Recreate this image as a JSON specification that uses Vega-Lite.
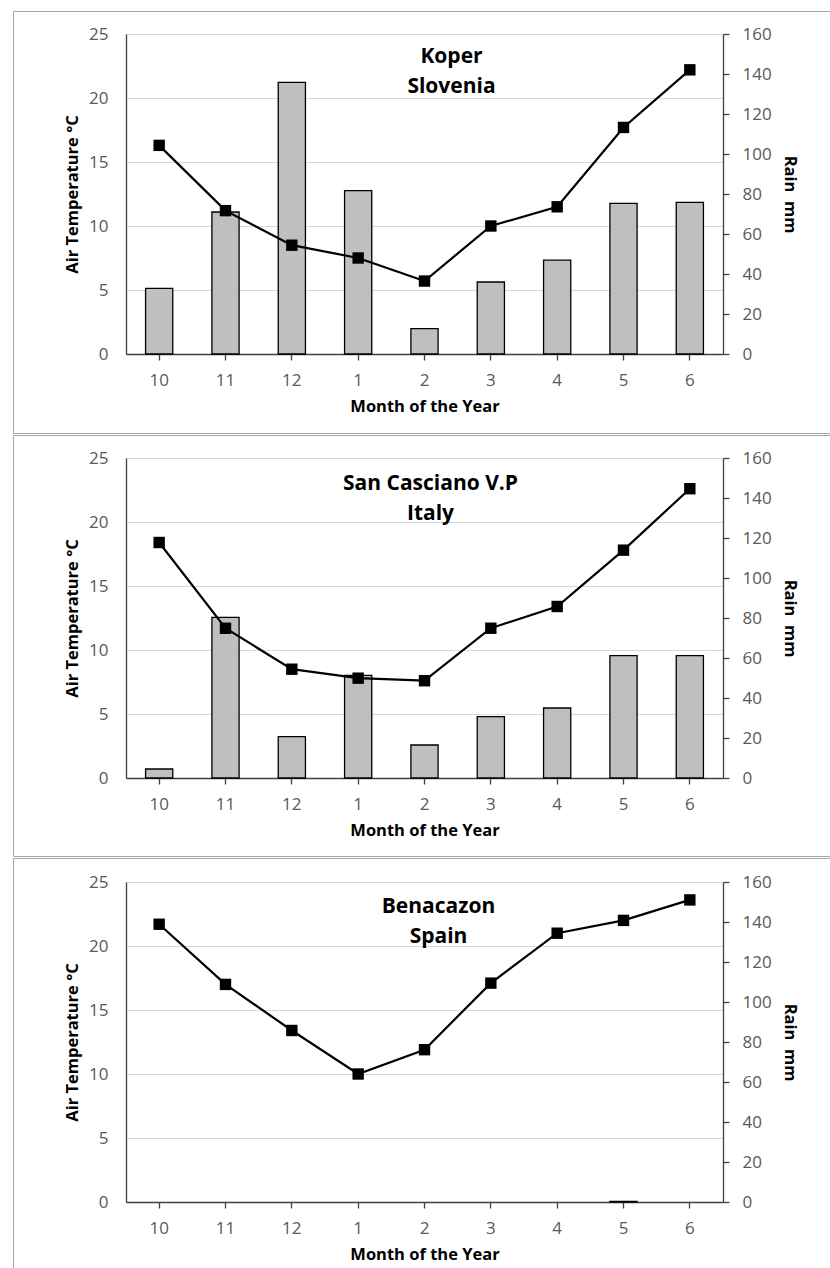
{
  "$schema": "https://vega.github.io/schema/vega-lite/v6.json",
  "padding": {"left": 12, "top": 10, "right": 0, "bottom": 0},
  "spacing": 0,
  "background": "white",
  "config": {
    "view": {"stroke": "#a6a6a6", "strokeWidth": 1},
    "font": "Open Sans",
    "axis": {
      "labelFont": "Open Sans", "labelFontSize": 17, "labelColor": "#595959",
      "titleFont": "Open Sans", "titleFontSize": 16.5, "titleFontWeight": "bold", "titleColor": "#000000",
      "domainColor": "#404040", "domainWidth": 1.3, "tickColor": "#404040", "tickWidth": 1.3,
      "gridColor": "#d9d9d9", "gridWidth": 1.2
    },
    "text": {"font": "Open Sans", "fontSize": 21, "fontWeight": "bold", "color": "#000000", "lineHeight": 30, "baseline": "top", "align": "center", "lineBreak": "\n"}
  },
  "datasets": {
    "koper": [
      {"month": "10", "temp": 16.3, "rain": 32.8},
      {"month": "11", "temp": 11.2, "rain": 71},
      {"month": "12", "temp": 8.5, "rain": 135.8},
      {"month": "1", "temp": 7.5, "rain": 81.7},
      {"month": "2", "temp": 5.7, "rain": 12.7},
      {"month": "3", "temp": 10.0, "rain": 36},
      {"month": "4", "temp": 11.5, "rain": 46.9},
      {"month": "5", "temp": 17.7, "rain": 75.3},
      {"month": "6", "temp": 22.2, "rain": 75.8}
    ],
    "sancasciano": [
      {"month": "10", "temp": 18.4, "rain": 4.5},
      {"month": "11", "temp": 11.7, "rain": 80.3},
      {"month": "12", "temp": 8.5, "rain": 20.7},
      {"month": "1", "temp": 7.8, "rain": 51.3},
      {"month": "2", "temp": 7.6, "rain": 16.5},
      {"month": "3", "temp": 11.7, "rain": 30.7},
      {"month": "4", "temp": 13.4, "rain": 35},
      {"month": "5", "temp": 17.8, "rain": 61.2},
      {"month": "6", "temp": 22.6, "rain": 61.2}
    ],
    "benacazon": [
      {"month": "10", "temp": 21.7, "rain": null},
      {"month": "11", "temp": 17.0, "rain": null},
      {"month": "12", "temp": 13.4, "rain": null},
      {"month": "1", "temp": 10.0, "rain": null},
      {"month": "2", "temp": 11.9, "rain": null},
      {"month": "3", "temp": 17.1, "rain": null},
      {"month": "4", "temp": 21.0, "rain": null},
      {"month": "5", "temp": 22.0, "rain": 0.3},
      {"month": "6", "temp": 23.6, "rain": null}
    ],
    "labels": [
      {"panel": "koper", "label": "Koper\nSlovenia"},
      {"panel": "sancasciano", "label": "San Casciano V.P\nItaly"},
      {"panel": "benacazon", "label": "Benacazon\nSpain"}
    ]
  },
  "vconcat": [
    {
      "width": 818, "height": 422,
      "data": {"name": "koper"},
      "encoding": {
        "x": {"field": "month", "type": "ordinal", "sort": null,
          "scale": {"domain": ["10", "11", "12", "1", "2", "3", "4", "5", "6"], "range": [113, 710], "paddingInner": 0.59, "paddingOuter": 0.295},
          "axis": {"title": "Month of the Year", "labelAngle": 0, "offset": -79, "tickSize": 6, "labelPadding": 12, "titlePadding": 10, "grid": false}}
      },
      "layer": [
        {"mark": {"type": "bar", "fill": "#bfbfbf", "stroke": "#000000", "strokeWidth": 1.3},
         "encoding": {"y": {"field": "rain", "type": "quantitative",
           "scale": {"domain": [0, 160], "range": [343, 23], "nice": false, "zero": true},
           "axis": {"orient": "right", "title": "Rain\u00a0 mm", "values": [0, 20, 40, 60, 80, 100, 120, 140, 160], "offset": -108, "tickSize": 6, "labelPadding": 13, "titlePadding": 10, "grid": false}}}},
        {"layer": [
          {"mark": {"type": "line", "color": "#000000", "strokeWidth": 2.2, "point": {"shape": "square", "size": 130, "filled": true, "color": "#000000", "opacity": 1}},
           "encoding": {"y": {"field": "temp", "type": "quantitative",
             "scale": {"domain": [0, 25], "range": [343, 23], "nice": false},
             "axis": {"orient": "left", "title": "Air Temperature °C", "values": [0, 5, 10, 15, 20, 25], "offset": -113, "ticks": false, "tickSize": 0, "labelPadding": 18, "titlePadding": 8, "grid": true}}}},
          {"data": {"name": "labels"},
           "transform": [{"filter": "datum.panel === 'koper'"}],
           "mark": {"type": "text", "dx": 27},
           "encoding": {"x": {"datum": "2"}, "y": {"datum": 24.05, "type": "quantitative"}, "text": {"field": "label"}}}
        ]}
      ],
      "resolve": {"scale": {"y": "independent"}}
    },
    {
      "width": 818, "height": 421,
      "data": {"name": "sancasciano"},
      "encoding": {
        "x": {"field": "month", "type": "ordinal", "sort": null,
          "scale": {"domain": ["10", "11", "12", "1", "2", "3", "4", "5", "6"], "range": [113, 710], "paddingInner": 0.59, "paddingOuter": 0.295},
          "axis": {"title": "Month of the Year", "labelAngle": 0, "offset": -78, "tickSize": 6, "labelPadding": 12, "titlePadding": 10, "grid": false}}
      },
      "layer": [
        {"mark": {"type": "bar", "fill": "#bfbfbf", "stroke": "#000000", "strokeWidth": 1.3},
         "encoding": {"y": {"field": "rain", "type": "quantitative",
           "scale": {"domain": [0, 160], "range": [343, 23], "nice": false, "zero": true},
           "axis": {"orient": "right", "title": "Rain\u00a0 mm", "values": [0, 20, 40, 60, 80, 100, 120, 140, 160], "offset": -108, "tickSize": 6, "labelPadding": 13, "titlePadding": 10, "grid": false}}}},
        {"layer": [
          {"mark": {"type": "line", "color": "#000000", "strokeWidth": 2.2, "point": {"shape": "square", "size": 130, "filled": true, "color": "#000000", "opacity": 1}},
           "encoding": {"y": {"field": "temp", "type": "quantitative",
             "scale": {"domain": [0, 25], "range": [343, 23], "nice": false},
             "axis": {"orient": "left", "title": "Air Temperature °C", "values": [0, 5, 10, 15, 20, 25], "offset": -113, "ticks": false, "tickSize": 0, "labelPadding": 18, "titlePadding": 8, "grid": true}}}},
          {"data": {"name": "labels"},
           "transform": [{"filter": "datum.panel === 'sancasciano'"}],
           "mark": {"type": "text", "dx": 6},
           "encoding": {"x": {"datum": "2"}, "y": {"datum": 23.8, "type": "quantitative"}, "text": {"field": "label"}}}
        ]}
      ],
      "resolve": {"scale": {"y": "independent"}}
    },
    {
      "width": 818, "height": 415,
      "data": {"name": "benacazon"},
      "encoding": {
        "x": {"field": "month", "type": "ordinal", "sort": null,
          "scale": {"domain": ["10", "11", "12", "1", "2", "3", "4", "5", "6"], "range": [113, 710], "paddingInner": 0.59, "paddingOuter": 0.295},
          "axis": {"title": "Month of the Year", "labelAngle": 0, "offset": -71, "tickSize": 6, "labelPadding": 12, "titlePadding": 10, "grid": false}}
      },
      "layer": [
        {"mark": {"type": "bar", "fill": "#bfbfbf", "stroke": "#000000", "strokeWidth": 1.3},
         "encoding": {"y": {"field": "rain", "type": "quantitative",
           "scale": {"domain": [0, 160], "range": [344, 24], "nice": false, "zero": true},
           "axis": {"orient": "right", "title": "Rain\u00a0 mm", "values": [0, 20, 40, 60, 80, 100, 120, 140, 160], "offset": -108, "tickSize": 6, "labelPadding": 13, "titlePadding": 10, "grid": false}}}},
        {"layer": [
          {"mark": {"type": "line", "color": "#000000", "strokeWidth": 2.2, "point": {"shape": "square", "size": 130, "filled": true, "color": "#000000", "opacity": 1}},
           "encoding": {"y": {"field": "temp", "type": "quantitative",
             "scale": {"domain": [0, 25], "range": [344, 24], "nice": false},
             "axis": {"orient": "left", "title": "Air Temperature °C", "values": [0, 5, 10, 15, 20, 25], "offset": -113, "ticks": false, "tickSize": 0, "labelPadding": 18, "titlePadding": 8, "grid": true}}}},
          {"data": {"name": "labels"},
           "transform": [{"filter": "datum.panel === 'benacazon'"}],
           "mark": {"type": "text", "dx": 14},
           "encoding": {"x": {"datum": "2"}, "y": {"datum": 23.92, "type": "quantitative"}, "text": {"field": "label"}}}
        ]}
      ],
      "resolve": {"scale": {"y": "independent"}}
    }
  ]
}
